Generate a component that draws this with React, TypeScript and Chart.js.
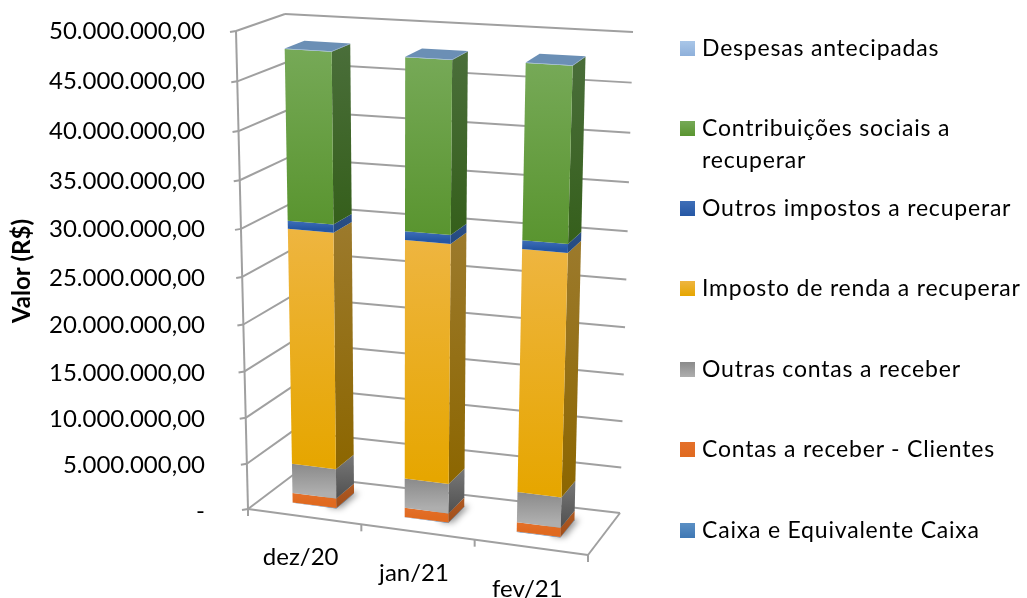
import React, { useEffect, useRef } from "react";
import { Chart, registerables, LinearScale, CategoryScale } from "chart.js";

const categories = ["dez/20", "jan/21", "fev/21"];
const caixa = [50000, 50000, 50000];
const contasClientes = [1050000, 1000000, 1000000];
const outrasContas = [3250000, 3200000, 3250000];
const impostoRenda = [25200000, 25200000, 25250000];
const outrosImpostos = [850000, 900000, 900000];
const contribuicoes = [17500000, 17450000, 17500000];
const despesas = [50000, 50000, 50000];

const seriesNames = [
  "Caixa e Equivalente Caixa",
  "Contas a receber - Clientes",
  "Outras contas a receber",
  "Imposto de renda a recuperar",
  "Outros impostos a recuperar",
  "Contribuições sociais a recuperar",
  "Despesas antecipadas",
];
const seriesValues = [caixa, contasClientes, outrasContas, impostoRenda, outrosImpostos, contribuicoes, despesas];

// [front top, front bottom, side top, side bottom]
const seriesColors = [
  ["#5b8fc4", "#3f78b4", "#3a6590", "#2f5880"],
  ["#e4702a", "#e06a20", "#b05a22", "#a04e1a"],
  ["#8a8a8a", "#aeaeae", "#787878", "#505050"],
  ["#eeb540", "#e6a600", "#9c7a2c", "#8c6600"],
  ["#3f6fb8", "#2557a4", "#2c4f86", "#234a80"],
  ["#76a957", "#5a9530", "#4a6e3a", "#355f1b"],
  ["#a9c6e8", "#8eb0da", "#6a8cb5", "#6a8cb5"],
];
const topFace = "#6b8fb5";
const gridColor = "#a0a0a0";

// Projection corners of the 3D box: [x, y]
const FLB = [248, 509], FRB = [588, 555], BRB = [620, 513], BLB = [293, 475];
const FLT = [236, 31], FRT = [605, 53], BRT = [633, 32], BLT = [285, 14];
const depthFront = 0.3, depthBack = 0.72, barShift = -0.009;
const plotTop = 31;

const mix = (a: number[], b: number[], t: number) => [a[0] + (b[0] - a[0]) * t, a[1] + (b[1] - a[1]) * t];
function project(u: number, w: number, h: number) {
  const bottom = mix(mix(FLB, FRB, u), mix(BLB, BRB, u), w);
  const top = mix(mix(FLT, FRT, u), mix(BLT, BRT, u), w);
  return mix(bottom, top, h);
}

class PerspectiveLinear extends LinearScale {
  static id = "perspectiveLinear";
  static defaults = LinearScale.defaults;
  getPixelForValue(value: number) {
    const t = (value - this.min) / (this.max - this.min);
    return this.bottom - (this.bottom - this.top) * (0.9417 * t + 0.0583 * t * t);
  }
}
class SlantCategory extends CategoryScale {
  static id = "slantCategory";
  static defaults = CategoryScale.defaults;
  _computeLabelArea() {
    return undefined;
  }
  _computeLabelItems(area: any) {
    const items = super._computeLabelItems(area);
    items.forEach((it: any, i: number) => {
      const u = (i + 0.5) / categories.length;
      const p = project(u, 0, 0);
      it.textOffset = 0;
      it.options.textAlign = "center";
      it.options.textBaseline = "middle";
      it.options.translation = [p[0] - 4, p[1] + 41 + i * 0.7];
    });
    return items;
  }
}
Chart.register(...registerables, PerspectiveLinear, SlantCategory);

function poly(ctx: CanvasRenderingContext2D, pts: number[][]) {
  ctx.beginPath();
  pts.forEach((p, i) => (i ? ctx.lineTo(p[0], p[1]) : ctx.moveTo(p[0], p[1])));
  ctx.closePath();
}
function line(ctx: CanvasRenderingContext2D, a: number[], b: number[]) {
  ctx.beginPath();
  ctx.moveTo(a[0], a[1]);
  ctx.lineTo(b[0], b[1]);
  ctx.stroke();
}

const box3d = {
  id: "box3d",
  afterLayout(chart: any) {
    const y = chart.scales.y;
    y.top = plotTop;
    y.height = y.bottom - plotTop;
    y._labelItems = null;
    chart.chartArea.top = plotTop;
    chart.chartArea.height = chart.chartArea.bottom - plotTop;
  },
  beforeDatasetsDraw(chart: any) {
    const { ctx, chartArea: ca, scales } = chart;
    const U = (x: number) => (x - ca.left) / (ca.right - ca.left) + barShift;
    const H = (y: number) => (ca.bottom - y) / (ca.bottom - ca.top);
    ctx.save();
    ctx.strokeStyle = gridColor;
    ctx.lineWidth = 2;
    // walls
    scales.y.ticks.forEach((t: any) => {
      const h = H(scales.y.getPixelForValue(t.value));
      const fl = project(0, 0, h), bl = project(0, 1, h), br = project(1, 1, h);
      line(ctx, [fl[0] - 6, fl[1] + 1], fl);
      line(ctx, fl, bl);
      line(ctx, bl, br);
    });
    line(ctx, FLB, FLT);
    // floor
    line(ctx, FLB, FRB);
    line(ctx, FRB, BRB);
    for (let i = 0; i <= categories.length; i++) {
      const p = project(i / categories.length, 0, 0);
      line(ctx, p, [p[0], p[1] + 7]);
    }
    // bars
    categories.forEach((_c, j) => {
      const first = chart.getDatasetMeta(0).data[j];
      const uL = U(first.x - first.width / 2), uR = U(first.x + first.width / 2);
      // floor shadow
      ctx.save();
      ctx.filter = "blur(3px)";
      ctx.fillStyle = "rgba(0,0,0,0.4)";
      poly(ctx, [project(uR - 0.02, depthFront, 0), project(uR + 0.012, depthFront + 0.02, 0), project(uR + 0.012, depthBack + 0.03, 0), project(uL + 0.02, depthBack + 0.03, 0)]);
      ctx.fill();
      ctx.restore();
      seriesNames.forEach((_n, i) => {
        const el = chart.getDatasetMeta(i).data[j];
        const hB = H(el.base), hT = H(el.y);
        const c = seriesColors[i];
        const a = project(uL, depthFront, hT), b = project(uR, depthFront, hT);
        const d = project(uR, depthFront, hB), e = project(uL, depthFront, hB);
        const f = project(uR, depthBack, hT), g = project(uR, depthBack, hB);
        const sg = ctx.createLinearGradient(0, f[1], 0, d[1]);
        sg.addColorStop(0, c[2]);
        sg.addColorStop(1, c[3]);
        ctx.fillStyle = sg;
        poly(ctx, [b, f, g, d]);
        ctx.fill();
        const fg = ctx.createLinearGradient(0, a[1], 0, e[1]);
        fg.addColorStop(0, c[0]);
        fg.addColorStop(1, c[1]);
        ctx.fillStyle = fg;
        poly(ctx, [a, b, d, e]);
        ctx.fill();
        if (i === seriesNames.length - 1) {
          ctx.fillStyle = topFace;
          poly(ctx, [a, b, f, project(uL, depthBack, hT)]);
          ctx.fill();
        }
      });
    });
    ctx.restore();
    return false;
  },
};

const legendRows = [
  { i: 6, top: 31 },
  { i: 5, top: 111 },
  { i: 4, top: 191 },
  { i: 3, top: 271 },
  { i: 2, top: 352 },
  { i: 1, top: 432 },
  { i: 0, top: 513 },
];

const fontFamily = "Lato, 'Noto Sans', sans-serif";

export default function App() {
  const ref = useRef<HTMLCanvasElement>(null);
  useEffect(() => {
    const chart = new Chart(ref.current as HTMLCanvasElement, {
      type: "bar",
      data: {
        labels: categories,
        datasets: seriesNames.map((name, i) => ({
          label: name,
          data: seriesValues[i],
          backgroundColor: seriesColors[i][1],
          barPercentage: 0.39,
          categoryPercentage: 1,
        })),
      },
      options: {
        responsive: false,
        animation: false,
        devicePixelRatio: 1,
        layout: { autoPadding: false, padding: { left: 0, right: 407, top: 31, bottom: 87 } },
        plugins: { legend: { display: false }, tooltip: { enabled: false } },
        scales: {
          x: {
            type: "slantCategory",
            stacked: true,
            grid: { display: false, drawTicks: false },
            border: { display: false },
            afterFit: (s: any) => { s.height = 0; },
            ticks: { autoSkip: false, maxRotation: 0, color: "#000", font: { family: fontFamily, size: 24 } },
          },
          y: {
            type: "perspectiveLinear",
            stacked: true,
            min: 0,
            max: 50000000,
            afterFit: (s: any) => { s.width = 248; },
            grid: { display: false, drawTicks: false },
            border: { display: false },
            title: { display: true, text: "Valor (R$)", color: "#000", font: { family: fontFamily, size: 24, weight: "bold" }, padding: { top: 8, bottom: 0 } },
            ticks: {
              stepSize: 5000000,
              padding: 43,
              color: "#000",
              font: { family: fontFamily, size: 24 },
              callback: (v: any) => v === 0 ? "-" : Number(v).toLocaleString("pt-BR", { minimumFractionDigits: 2, maximumFractionDigits: 2 }),
            },
          },
        },
      } as any,
      plugins: [box3d],
    } as any);
    return () => chart.destroy();
  }, []);
  return (
    <div style={{ position: "absolute", left: 0, top: 0, width: 1027, height: 598, background: "#fff", overflow: "hidden", filter: "blur(0.4px)" }}>
      <canvas ref={ref} width={1027} height={598} style={{ display: "block", width: 1027, height: 598 }} />
      {legendRows.map(({ i, top }) => (
        <div key={i} style={{ position: "absolute", left: 680, top, width: 347, fontFamily, fontSize: 23, lineHeight: "32px", color: "#000", letterSpacing: "0.8px" }}>
          <span style={{ position: "absolute", left: 0, top: 10, width: 15, height: 15, background: `linear-gradient(${seriesColors[i][0]}, ${seriesColors[i][1]})` }} />
          <div style={{ marginLeft: 22, width: 325 }}>{seriesNames[i]}</div>
        </div>
      ))}
    </div>
  );
}
